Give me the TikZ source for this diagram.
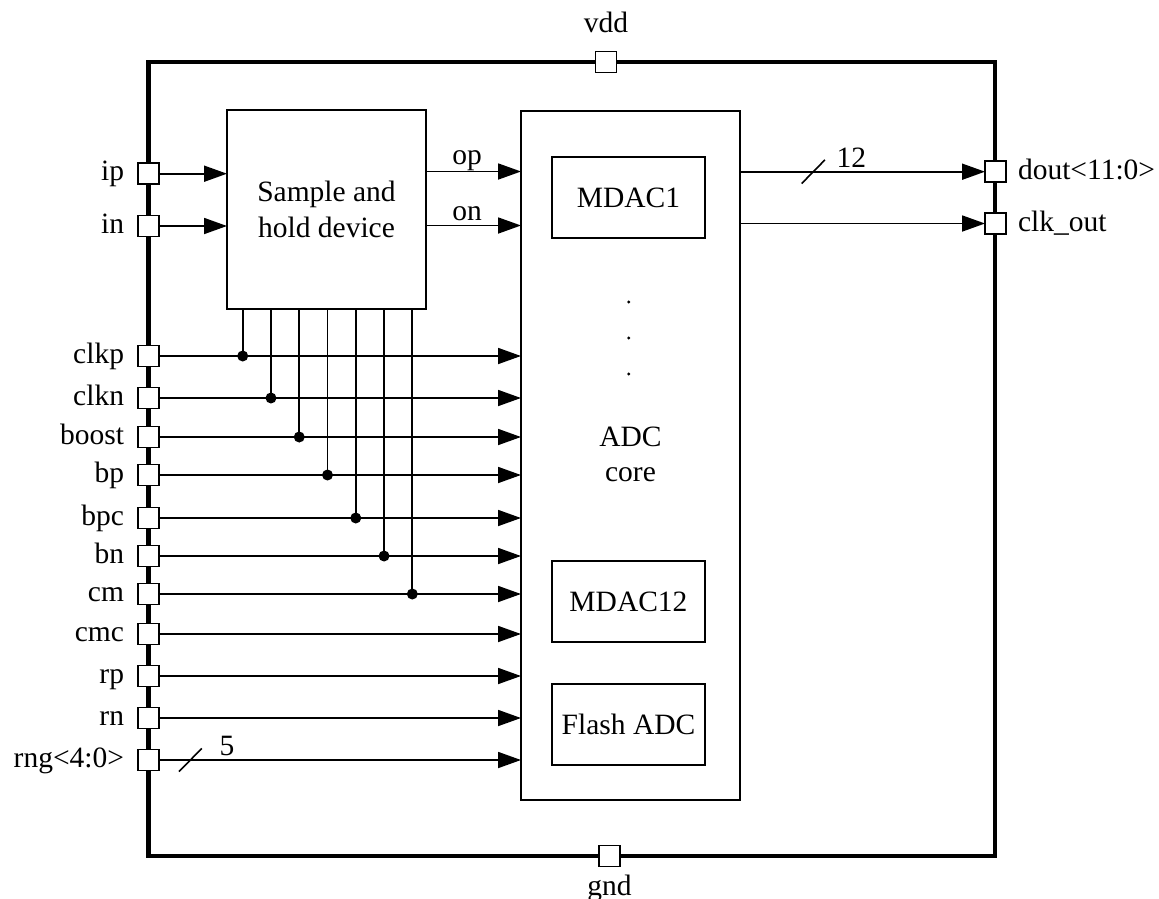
\documentclass[tikz,border=0pt]{standalone}
\usepackage{fontspec}
\setmainfont{Liberation Serif}
\usetikzlibrary{arrows.meta,calc}

\begin{document}
\begin{tikzpicture}[x=1pt,y=-1pt,
  every node/.style={font=\fontsize{29.5}{36.7}\selectfont, inner sep=0pt, outer sep=0pt},
  frame/.style={line width=4.7pt},
  block/.style={draw, rectangle, line width=1.8pt, inner sep=0pt, align=center},
  pin/.style={draw, fill=white, rectangle, line width=1.8pt, minimum size=21pt, inner sep=0pt},
  wire/.style={line width=1.8pt},
  sig/.style={wire, -{Triangle[length=23pt,width=16pt]}},
  tap/.style={circle, fill, minimum size=11pt, inner sep=0pt},
  dotmark/.style={circle, fill, minimum size=3.4pt, inner sep=0pt},
  bus/.style={line width=1.6pt}
]
\useasboundingbox (0,0) rectangle (1159,899);

% chip outline
\draw[frame] (148.5,62) rectangle (995,856);

% blocks
\node[block, minimum width=199pt, minimum height=199pt] (sh) at (326.5,209.5) {Sample and\\hold device};
\node[block, minimum width=219pt, minimum height=689pt] (core) at (630.5,455.3) {};
\node[block, minimum width=153pt, minimum height=81pt] (mdac1) at (628.5,197.5) {MDAC1};
\node[block, minimum width=153pt, minimum height=81pt] (mdac12) at (628.5,601.5) {MDAC12};
\node[block, minimum width=153pt, minimum height=81pt] (flash) at (628.5,724.5) {Flash ADC};
\node[align=center, font=\fontsize{29.5}{35}\selectfont] (corelbl) at (630.5,454.4) {ADC\\core};
\node[dotmark] (dot1) at (628.7,302) {};
\node[dotmark] (dot2) at (628.7,338) {};
\node[dotmark] (dot3) at (628.7,374) {};

% supply pins
\node[pin] (p-vdd) at (606,62) {};
\node[anchor=base] (l-vdd) at (606,33) {vdd};
\node[pin] (p-gnd) at (609.5,856) {};
\node[anchor=base] (l-gnd) at (609.5,895) {gnd};

% input pins on the left edge
\foreach \n/\t/\y in {ip/ip/173.7, in/in/226, clkp/clkp/356, clkn/clkn/398,
    boost/boost/437, bp/bp/475, bpc/bpc/518, bn/bn/556, cm/cm/594,
    cmc/cmc/634, rp/rp/676, rn/rn/718, rng/rng<4:0>/760} {
  \node[pin] (p-\n) at (148.5,\y) {};
  \node[anchor=base east] (l-\n) at (124,\y+7) {\t};
}

% output pins on the right edge
\node[pin] (p-dout) at (995.5,171.7) {};
\node[anchor=base west] (l-dout) at (1018,179) {dout<11:0>};
\node[pin] (p-clk) at (995.5,223.5) {};
\node[anchor=base west] (l-clk) at (1018,231) {clk\_out};

% analog inputs into the sample and hold
\draw[sig] (p-ip.east) -- (p-ip.east -| sh.west);
\draw[sig] (p-in.east) -- (p-in.east -| sh.west);

% sampled outputs into the ADC core
\coordinate (yop) at (0,171.5);
\coordinate (yon) at (0,225.5);
\draw[sig] (sh.east |- yop) -- (core.west |- yop);
\draw[sig] (sh.east |- yon) -- (core.west |- yon);
\node[anchor=base] (l-op) at (467,164) {op};
\node[anchor=base] (l-on) at (467,220) {on};

% clocks, biases and references into the ADC core
\foreach \n in {clkp,clkn,boost,bp,bpc,bn,cm,cmc,rp,rn,rng} {
  \draw[sig] (p-\n.east) -- (p-\n.east -| core.west);
}

% shared lines also tapped by the sample and hold
\foreach \n [count=\k from 0] in {clkp,clkn,boost,bp,bpc,bn,cm} {
  \coordinate (t-\n) at ({242.7+28.27*\k},0);
  \draw[wire] (sh.south -| t-\n) -- (p-\n -| t-\n);
  \node[tap] (d-\n) at (p-\n -| t-\n) {};
}

% outputs
\draw[sig] (core.east |- p-dout) -- (p-dout.west);
\draw[sig] (core.east |- p-clk) -- (p-clk.west);

% bus width marks
\coordinate (s-dout) at (813.3,171.7);
\draw[bus] ($(s-dout)+(-11.6,11.8)$) -- ($(s-dout)+(11.6,-11.8)$);
\node[anchor=base west] (w-dout) at (836.5,167) {12};
\coordinate (s-rng) at (190.4,760);
\draw[bus] ($(s-rng)+(-11.4,11.6)$) -- ($(s-rng)+(11.4,-11.6)$);
\node[anchor=base west] (w-rng) at (219.5,755) {5};
\end{tikzpicture}
\end{document}
